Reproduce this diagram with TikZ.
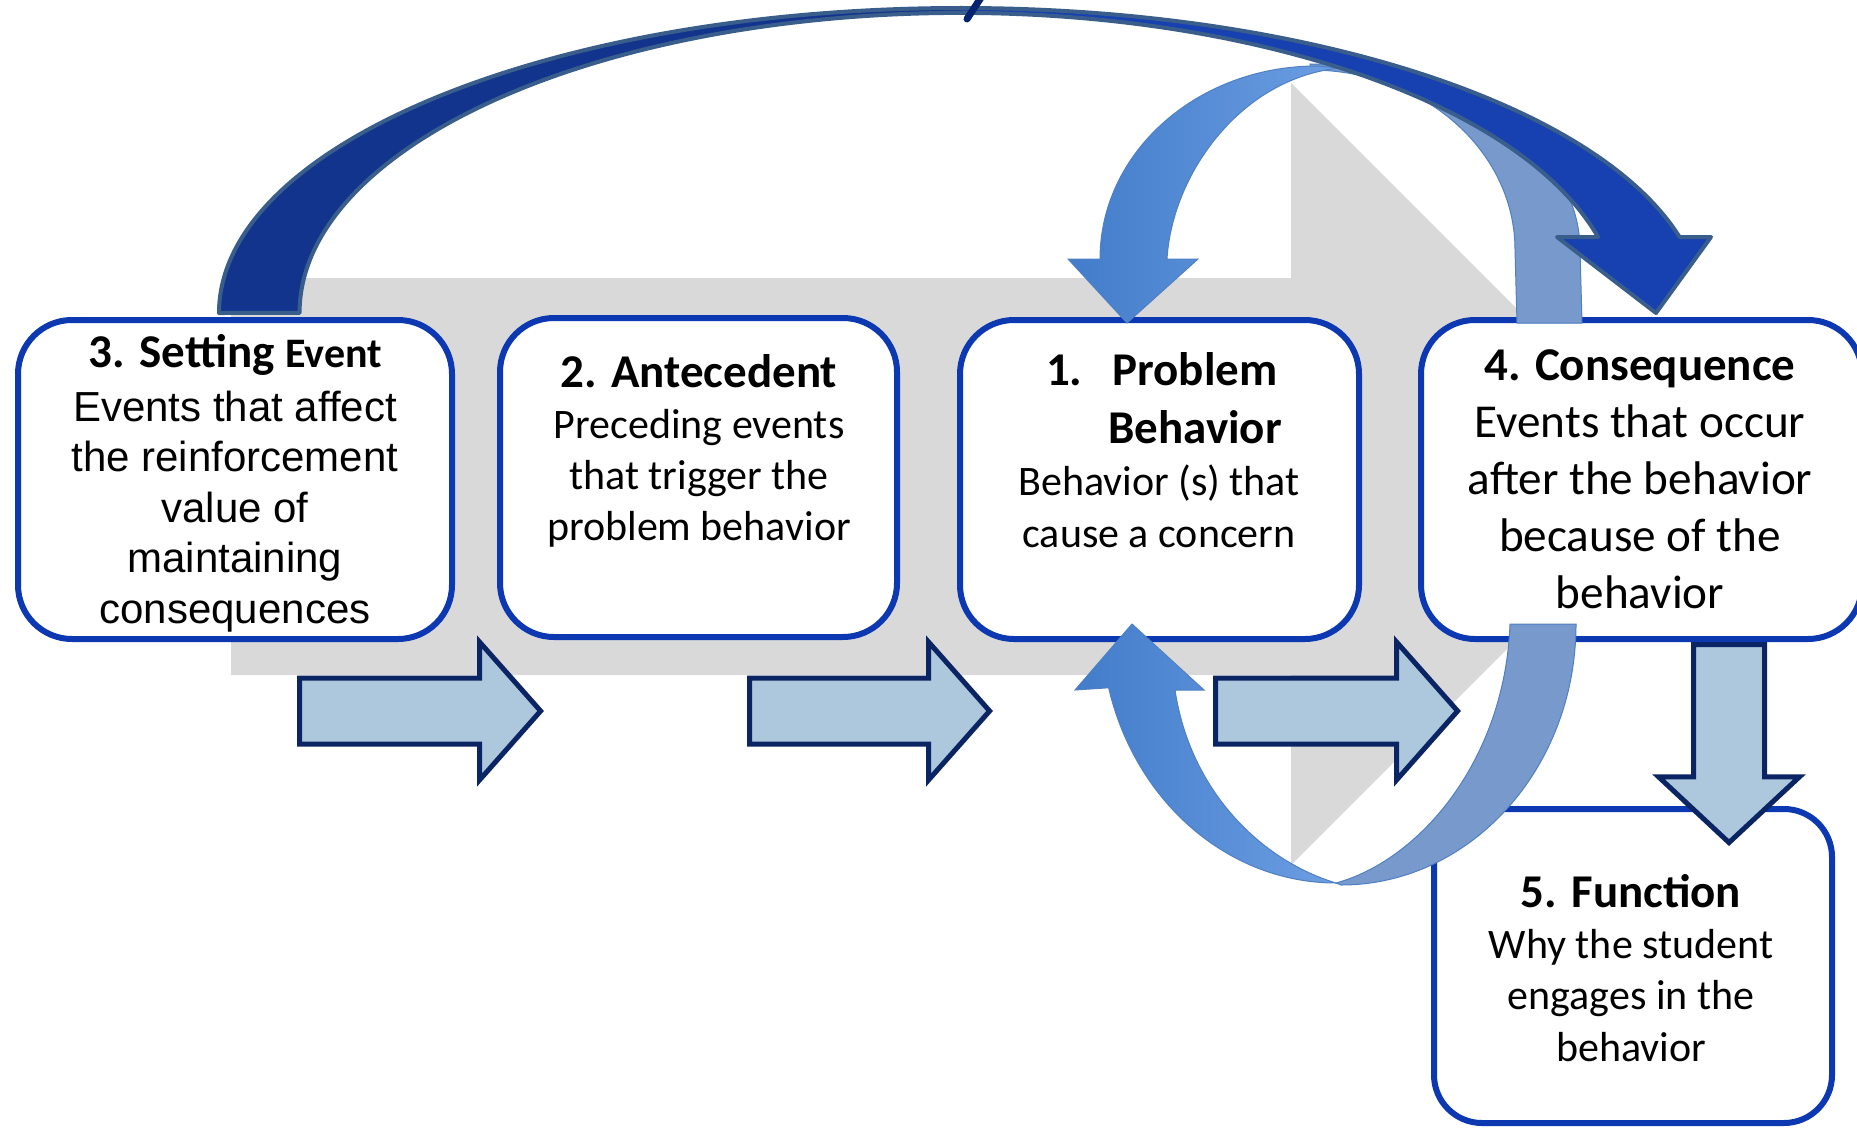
\documentclass[tikz,border=0pt]{standalone}
\usepackage{fontspec}
\setmainfont{Carlito}
\newfontfamily\arialfont{Liberation Sans}
\usetikzlibrary{shapes.arrows}
\definecolor{boxblue}{RGB}{12,56,178}
\definecolor{graybg}{RGB}{217,217,217}
\definecolor{arrowfill}{RGB}{173,200,221}
\definecolor{arrownavy}{RGB}{11,36,100}
\definecolor{archdark}{RGB}{19,52,140}
\definecolor{archbright}{RGB}{23,64,176}
\definecolor{archedge}{RGB}{58,94,140}
\definecolor{loopfront}{RGB}{66,124,202}
\definecolor{looplight}{RGB}{108,158,226}
\definecolor{loopsteel}{RGB}{119,153,204}
\definecolor{loopedge}{RGB}{80,128,196}
\definecolor{topmark}{RGB}{5,35,110}
\newcommand{\archpath}{(219,313) arc[start angle=180,end angle=345.57,x radius=742,y radius=305] -- (1711,237) -- (1656,313) -- (1557,237) -- (1598,237) arc[start angle=345.33,end angle=180,x radius=660,y radius=300] -- cycle}

\begin{document}
\begin{tikzpicture}[x=0.5pt,y=-0.5pt,
		stepbox/.style={draw=boxblue,line width=3pt,fill=white,rounded corners=27pt,inner sep=0pt},
		flowarrow/.style={single arrow,draw=arrownavy,fill=arrowfill,line width=2.5pt,inner xsep=0pt,inner ysep=15.25pt,minimum width=66.5pt,single arrow head extend=18pt,single arrow tip angle=97},
		titletext/.style={font=\fontsize{23.5}{29}\selectfont\bfseries,anchor=base,align=center},
		bodytext/.style={font=\fontsize{21}{25.5}\selectfont,anchor=base,align=center}]
	\clip (0,0) rectangle (1857,1129);
	\fill[graybg] (231,278) -- (1291,278) -- (1291,83) -- (1682,474) -- (1291,865) -- (1291,675) -- (231,675) -- cycle;

	\node[stepbox,minimum width=217pt,minimum height=159.5pt] (setting) at (235,479.5) {};
	\node[stepbox,minimum width=198.5pt,minimum height=159.5pt] (antecedent) at (698.5,477.5) {};
	\node[stepbox,minimum width=199.5pt,minimum height=159.5pt] (problem) at (1159.5,479.5) {};
	\node[stepbox,minimum width=220.5pt,minimum height=159.5pt] (consequence) at (1641.5,479.5) {};
	\node[stepbox,minimum width=199pt,minimum height=157pt,rounded corners=24pt] (function) at (1633,966) {};

	\node[flowarrow,minimum height=120.5pt] (settoante) at (405.5,711) {};
	\node[flowarrow,minimum height=120pt] (antetoprob) at (855,711) {};
	\node[flowarrow,minimum height=121pt] (probtocons) at (1322,711) {};
	\node[flowarrow,rotate=-90,minimum height=99pt,inner ysep=16.5pt,minimum width=68pt,single arrow head extend=17.5pt,single arrow tip angle=94] (constofunc) at (1729,727) {};

	\node[titletext] (settingtitle) at (235.5,367) {3. Setting {\fontsize{21}{25}\selectfont Event}};
	\node[bodytext,font=\arialfont\fontsize{21}{25.2}\selectfont] (settingtext) at (235,623) {Events that affect\\the reinforcement\\value of\\maintaining\\consequences};
	\node[titletext] (antecedenttitle) at (699,387) {2. Antecedent};
	\node[bodytext] (antecedenttext) at (699,540) {Preceding events\\that trigger the\\problem behavior};
	\node[titletext,anchor=base west] (problemnum) at (1039,385) {1.};
	\node[titletext] (problemtitle) at (1195,443) {Problem\\Behavior};
	\node[bodytext,font=\fontsize{21}{26}\selectfont] (problemtext) at (1159,547) {Behavior (s) that\\cause a concern};
	\node[titletext] (consequencetitle) at (1640,380) {4. Consequence};
	\node[bodytext,font=\fontsize{23.6}{28.5}\selectfont] (consequencetext) at (1640,608) {Events that occur\\after the behavior\\because of the\\behavior};
	\node[titletext] (functiontitle) at (1631,907) {5. Function};
	\node[bodytext,font=\fontsize{21}{25.75}\selectfont] (functiontext) at (1631,1061) {Why the student\\engages in the\\behavior};

	\fill[loopsteel,draw=loopedge,line width=0.5pt] (1310,64) arc[start angle=270,end angle=360,x radius=270,y radius=186] -- (1582,323) -- (1517,323) -- (1515,250) arc[start angle=0,end angle=-90,x radius=205,y radius=180] -- cycle;
	\shade[left color=loopfront,right color=looplight,draw=loopedge,line width=0.5pt] (1100,259) arc[start angle=180,end angle=270,x radius=217,y radius=193] -- (1340,68) .. controls (1240,78) and (1172,175) .. (1167,259) -- (1198,259) -- (1127,323) -- (1068,259) -- cycle;

	\fill[archbright] \archpath;
	\begin{scope}
		\clip (0,0) rectangle (960,400);
		\fill[archdark] \archpath;
	\end{scope}
	\draw[archedge,line width=2pt,line join=round] \archpath;
	\draw[topmark,line width=3.5pt,line cap=round] (982,-4) -- (967,19);

	\fill[loopsteel,draw=loopedge,line width=0.5pt] (1510,624) -- (1576,624) arc[start angle=0,end angle=90,x radius=235,y radius=261] -- (1336,883) .. controls (1420,860) and (1505,760) .. (1510,624) -- cycle;
	\shade[left color=loopfront,right color=looplight,draw=loopedge,line width=0.5pt] (1336,883) arc[start angle=90,end angle=165.4,x radius=235,y radius=261] -- (1075,690) -- (1132,624) -- (1204,690) -- (1175,690) .. controls (1190,790) and (1260,860) .. (1336,883) -- cycle;
\end{tikzpicture}
\end{document}
